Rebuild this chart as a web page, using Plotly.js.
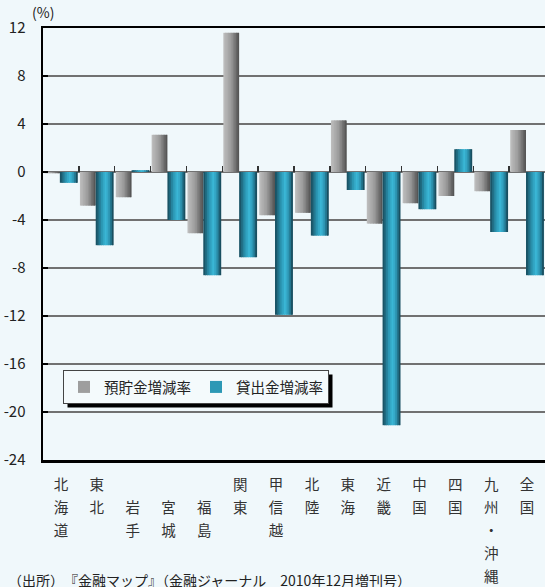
<!DOCTYPE html>
<html>
<head>
<meta charset="utf-8">
<script src="https://cdn.plot.ly/plotly-3.0.1.min.js"></script>
<style>
  html, body { margin: 0; padding: 0; background: #f0f8fb; }
  #chart { width: 545px; height: 587px; }
</style>
</head>
<body>
<div id="chart"></div>
<script>
// Regions (categories)
const regions = ['北海道', '東北', '岩手', '宮城', '福島', '関東', '甲信越', '北陸', '東海', '近畿', '中国', '四国', '九州・沖縄', '全国'];
// Vertical, one-character-per-line tick labels (prefectures start one line lower)
const regionTickText = [
  '北<br>海<br>道', '東<br>北', '\u3000<br>岩<br>手', '\u3000<br>宮<br>城', '\u3000<br>福<br>島',
  '関<br>東', '甲<br>信<br>越', '北<br>陸', '東<br>海', '近<br>畿', '中<br>国', '四<br>国',
  '九<br>州<br>・<br>沖<br>縄', '全<br>国'
];
// Series values (%)
const depositRate = [-0.1, -2.8, -2.1, 3.1, -5.1, 11.6, -3.6, -3.4, 4.3, -4.3, -2.6, -2.0, -1.6, 3.5];
const loanRate = [-0.9, -6.1, 0.15, -4.0, -8.6, -7.1, -11.9, -5.3, -1.5, -21.1, -3.1, 1.9, -5.0, -8.6];
// Y-axis ticks
const yTickVals = [12, 8, 4, 0, -4, -8, -12, -16, -20, -24];
const yTickText = ['12', '8', '4', '0', '-4', '-8', '-12', '-16', '-20', '-24'];
const seriesNames = ['預貯金増減率', '貸出金増減率'];

// Colour stops for the cylinder-like shading of each series
function hex2rgb(h) { return [1, 3, 5].map(i => parseInt(h.slice(i, i + 2), 16)); }
function shade(stops, t) {
  for (let i = 1; i < stops.length; i++) {
    if (t <= stops[i][0]) {
      const a = stops[i - 1], b = stops[i];
      const f = (t - a[0]) / (b[0] - a[0] || 1);
      const ca = hex2rgb(a[1]), cb = hex2rgb(b[1]);
      const c = ca.map((v, k) => Math.round(v + (cb[k] - v) * f));
      return 'rgb(' + c.join(',') + ')';
    }
  }
  return stops[stops.length - 1][1];
}
const grayStops = [[0, '#bcbcbc'], [0.5, '#9a9a9a'], [1, '#565656']];
const tealStops = [[0, '#1a5466'], [0.3, '#2a93b0'], [0.58, '#3cb9d9'], [0.82, '#2a8daa'], [1, '#194f60']];

// Each series is drawn as narrow vertical strips of the same bars to get a shaded look
const STRIPS = 10;
function shadedBars(values, name, stops, offset, width, legendStrip) {
  const out = [];
  const step = width / STRIPS;
  for (let k = 0; k < STRIPS; k++) {
    const last = k === STRIPS - 1;
    out.push({
      type: 'bar',
      x: regions,
      y: values,
      name: name,
      legendgroup: name,
      showlegend: k === legendStrip,
      offset: offset + k * step,
      width: last ? step : step * 1.6,
      marker: { color: shade(stops, k / (STRIPS - 1)), line: { width: 0 } },
      hoverinfo: 'skip'
    });
  }
  return out;
}

const traces = []
  .concat(shadedBars(depositRate, seriesNames[0], grayStops, -0.47, 0.44, 4))
  .concat(shadedBars(loanRate, seriesNames[1], tealStops, -0.03, 0.5, 3));

// category-boundary ticks along the zero line
traces.push({
  type: 'scatter', mode: 'markers', x: regions, y: depositRate,
  xaxis: 'x2', yaxis: 'y', marker: { opacity: 0, size: 1 },
  showlegend: false, hoverinfo: 'skip'
});

const fontFamily = '"Noto Sans CJK JP", "Noto Sans", sans-serif';
const LABEL_SIZE = 14.5;
const M = { l: 43, r: 0, t: 28, b: 127 };
const PW = 545 - M.l - M.r, PH = 587 - M.t - M.b;

const layout = {
  width: 545, height: 587,
  margin: M,
  paper_bgcolor: '#f0f8fb',
  plot_bgcolor: '#f0f8fb',
  font: { family: fontFamily, color: '#222', size: 15 },
  barmode: 'overlay',
  showlegend: true,
  legend: {
    orientation: 'h',
    x: 20 / PW, xanchor: 'left',
    y: (460 - 370) / PH, yanchor: 'top',
    bgcolor: '#f4fafc',
    bordercolor: '#444',
    borderwidth: 1,
    font: { family: fontFamily, size: 14.5, color: '#222' },
    itemwidth: 30,
    traceorder: 'normal'
  },
  xaxis: {
    type: 'category',
    range: [-0.5, regions.length - 0.5],
    tickvals: regions,
    ticktext: regionTickText.map(s => s.split('<br>').map(c => '<span style="font-size:' + LABEL_SIZE + 'px">' + c + '</span>').join('<br>')),
    tickfont: { family: fontFamily, size: 17.7, color: '#333' },
    tickangle: 0,
    ticks: '',
    ticklabelstandoff: 6,
    showgrid: false,
    zeroline: false,
    showline: true,
    linecolor: '#000',
    linewidth: 2.5,
    mirror: true,
    fixedrange: true
  },
  xaxis2: {
    type: 'category',
    overlaying: 'x',
    anchor: 'free',
    position: 2 / 3,
    range: [-0.5, regions.length - 0.5],
    tickson: 'boundaries',
    ticks: 'inside',
    ticklen: 6,
    tickwidth: 1.5,
    tickcolor: '#333',
    showticklabels: false,
    showgrid: false,
    zeroline: false,
    showline: false
  },
  yaxis: {
    range: [-24, 12],
    tickvals: yTickVals,
    ticktext: yTickText,
    ticks: 'inside',
    ticklen: 5,
    tickwidth: 2,
    tickcolor: '#000',
    ticklabelstandoff: 12,
    tickfont: { family: fontFamily, size: 15, color: '#222' },
    showgrid: true,
    gridcolor: '#717171',
    gridwidth: 1.5,
    zeroline: false,
    showline: true,
    linecolor: '#000',
    linewidth: 2.5,
    fixedrange: true
  },
  shapes: [],
  annotations: [
    { text: '(%)', xref: 'paper', yref: 'paper', x: 0, y: 1, xanchor: 'center', yanchor: 'bottom',
      yshift: 4, showarrow: false, font: { family: fontFamily, size: 14, color: '#222' } },
    { text: '（出所）　『金融マップ』（金融ジャーナル　2010年12月増刊号）', xref: 'paper', yref: 'paper',
      x: -37 / PW, y: (460 - 580) / PH, xanchor: 'left', yanchor: 'middle',
      showarrow: false, font: { family: fontFamily, size: 14, color: '#222' } }
  ]
};

Plotly.newPlot('chart', traces, layout, { staticPlot: true, displayModeBar: false }).then(gd => {
  // drop shadow placed just behind the rendered legend box
  const bg = gd.querySelector('.legend .bg');
  if (!bg) return;
  const host = gd.getBoundingClientRect();
  const r = bg.getBoundingClientRect();
  const left = r.left - host.left, top = r.top - host.top;
  const off = 4;
  return Plotly.relayout(gd, {
    shapes: [{
      type: 'rect', xref: 'paper', yref: 'paper', layer: 'above',
      x0: (left + off - M.l) / PW, x1: (left + r.width + off - M.l) / PW,
      y0: (M.t + PH - (top + r.height + off)) / PH, y1: (M.t + PH - (top + off)) / PH,
      fillcolor: '#000', line: { width: 0 }
    }]
  });
});
</script>
</body>
</html>
